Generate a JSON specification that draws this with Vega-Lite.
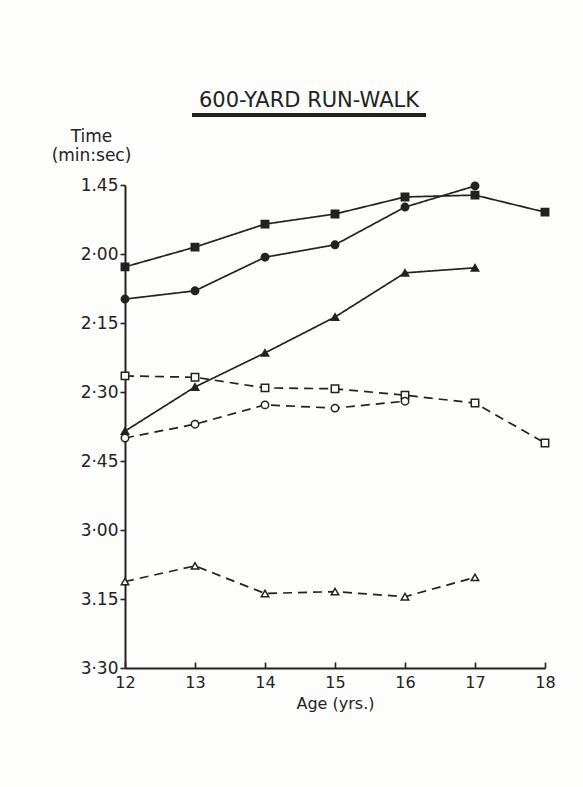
{
  "$schema": "https://vega.github.io/schema/vega-lite/v6.json",
  "width": 420,
  "height": 483,
  "autosize": {"type": "none"},
  "padding": {"left": 125, "top": 185, "right": 38, "bottom": 119},
  "background": "#fdfdfc",
  "config": {
    "view": {"stroke": null},
    "font": "DejaVu Sans",
    "axis": {"domainColor": "#222", "tickColor": "#222", "labelColor": "#222", "titleColor": "#222", "grid": false}
  },
  "title": {
    "text": "600-YARD RUN-WALK",
    "fontSize": 21,
    "fontWeight": "normal",
    "color": "#222",
    "anchor": "middle",
    "frame": "group",
    "dx": -26,
    "offset": 3
  },
  "data": {
    "values": [
      {"series": "boys_a", "age": 12, "sec": 122.8},
      {"series": "boys_a", "age": 13, "sec": 118.5},
      {"series": "boys_a", "age": 14, "sec": 113.5},
      {"series": "boys_a", "age": 15, "sec": 111.3},
      {"series": "boys_a", "age": 16, "sec": 107.6},
      {"series": "boys_a", "age": 17, "sec": 107.2},
      {"series": "boys_a", "age": 18, "sec": 110.9},
      {"series": "boys_b", "age": 12, "sec": 129.8},
      {"series": "boys_b", "age": 13, "sec": 128.0},
      {"series": "boys_b", "age": 14, "sec": 120.7},
      {"series": "boys_b", "age": 15, "sec": 118.0},
      {"series": "boys_b", "age": 16, "sec": 109.8},
      {"series": "boys_b", "age": 17, "sec": 105.2},
      {"series": "boys_c", "age": 12, "sec": 158.5},
      {"series": "boys_c", "age": 13, "sec": 148.9},
      {"series": "boys_c", "age": 14, "sec": 141.5},
      {"series": "boys_c", "age": 15, "sec": 133.7},
      {"series": "boys_c", "age": 16, "sec": 124.1},
      {"series": "boys_c", "age": 17, "sec": 123.0},
      {"series": "girls_a", "age": 12, "sec": 146.5},
      {"series": "girls_a", "age": 13, "sec": 146.8},
      {"series": "girls_a", "age": 14, "sec": 149.1},
      {"series": "girls_a", "age": 15, "sec": 149.3},
      {"series": "girls_a", "age": 16, "sec": 150.7},
      {"series": "girls_a", "age": 17, "sec": 152.4},
      {"series": "girls_a", "age": 18, "sec": 161.1},
      {"series": "girls_b", "age": 12, "sec": 160.0},
      {"series": "girls_b", "age": 13, "sec": 157.0},
      {"series": "girls_b", "age": 14, "sec": 152.8},
      {"series": "girls_b", "age": 15, "sec": 153.5},
      {"series": "girls_b", "age": 16, "sec": 152.0},
      {"series": "girls_c", "age": 12, "sec": 191.2},
      {"series": "girls_c", "age": 13, "sec": 187.8},
      {"series": "girls_c", "age": 14, "sec": 193.8},
      {"series": "girls_c", "age": 15, "sec": 193.4},
      {"series": "girls_c", "age": 16, "sec": 194.5},
      {"series": "girls_c", "age": 17, "sec": 190.3}
    ]
  },
  "encoding": {
    "x": {
      "field": "age",
      "type": "quantitative",
      "scale": {"domain": [12, 18], "nice": false, "zero": false},
      "axis": {
        "values": [12, 13, 14, 15, 16, 17, 18],
        "format": "d",
        "title": "Age (yrs.)",
        "titleFontSize": 16,
        "titleFontWeight": "normal",
        "titlePadding": 5,
        "labelFontSize": 16,
        "labelAlign": "center",
        "labelBaseline": "top",
        "labelFlush": false,
        "labelPadding": 12,
        "tickSize": -6,
        "tickWidth": 1.6,
        "domainWidth": 2
      }
    },
    "y": {
      "field": "sec",
      "type": "quantitative",
      "scale": {"domain": [105, 210], "reverse": true, "nice": false, "zero": false},
      "axis": {
        "values": [105, 120, 135, 150, 165, 180, 195, 210],
        "labelExpr": "datum.value == 105 ? '1.45' : datum.value == 195 ? '3.15' : floor(datum.value / 60) + '·' + (datum.value % 60 < 10 ? '0' : '') + (datum.value % 60)",
        "labelFontSize": 17,
        "labelPadding": 2,
        "labelFlush": false,
        "tickSize": 5,
        "tickWidth": 1.6,
        "domainWidth": 2,
        "title": ["Time", "(min:sec)"],
        "titleFontSize": 17,
        "titleFontWeight": "normal",
        "titleAngle": 0,
        "titleAlign": "center",
        "titleBaseline": "top",
        "titleX": -34,
        "titleY": -57,
        "titleLineHeight": 19
      }
    }
  },
  "layer": [
    {
      "mark": {"type": "line", "color": "#222", "strokeWidth": 1.7},
      "encoding": {
        "detail": {"field": "series"},
        "strokeDash": {
          "field": "series",
          "scale": {
            "domain": ["boys_a", "boys_b", "boys_c", "girls_a", "girls_b", "girls_c"],
            "range": [[1, 0], [1, 0], [1, 0], [9, 6], [9, 6], [9, 6]]
          },
          "legend": null
        }
      }
    },
    {
      "mark": {"type": "point", "filled": true, "stroke": "#222", "strokeWidth": 1.5, "size": 55, "opacity": 1},
      "encoding": {
        "shape": {
          "field": "series",
          "scale": {
            "domain": ["boys_a", "boys_b", "boys_c", "girls_a", "girls_b", "girls_c"],
            "range": ["square", "circle", "triangle-up", "square", "circle", "triangle-up"]
          },
          "legend": null
        },
        "fill": {
          "field": "series",
          "scale": {
            "domain": ["boys_a", "boys_b", "boys_c", "girls_a", "girls_b", "girls_c"],
            "range": ["#222", "#222", "#222", "#fdfdfc", "#fdfdfc", "#fdfdfc"]
          },
          "legend": null
        }
      }
    },
    {
      "mark": {"type": "rule", "color": "#222", "strokeWidth": 3},
      "encoding": {
        "x": {"datum": 12.97},
        "x2": {"datum": 16.3},
        "y": {"datum": 89.8}
      }
    }
  ]
}
